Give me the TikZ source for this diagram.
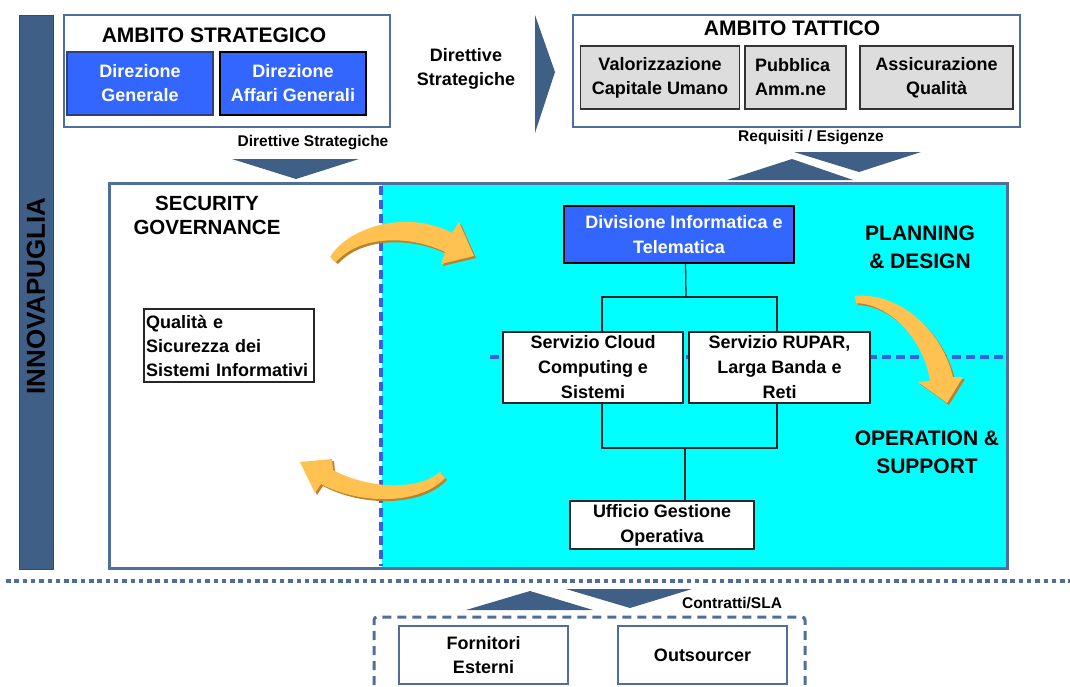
\documentclass[tikz,border=0pt]{standalone}
\usepackage{fontspec}
\setmainfont{Liberation Sans}
\definecolor{slate}{RGB}{63,95,135}
\definecolor{frame}{RGB}{80,110,155}
\definecolor{boxblue}{RGB}{51,102,255}
\definecolor{dgborder}{RGB}{45,65,120}
\definecolor{dashblue}{RGB}{55,95,225}
\definecolor{cyanbg}{RGB}{0,255,255}
\definecolor{grayfill}{RGB}{221,221,221}
\definecolor{orangeA}{RGB}{255,193,80}
\definecolor{orangeS}{RGB}{185,130,45}
\tikzset{
  fa/.style={font=\bfseries\fontsize{18}{24}\selectfont, align=center},
  fb/.style={font=\bfseries\fontsize{21}{28}\selectfont, align=center},
  fc/.style={font=\bfseries\fontsize{15.5}{19}\selectfont, align=center},
  framebox/.style={draw=frame, line width=2.5, fill=white, inner sep=0},
  bluebox/.style={fa, fill=boxblue, text=white, inner sep=0, line width=1.3},
  graybox/.style={fa, fill=grayfill, draw=black!80, line width=1.3, inner sep=0, minimum height=63},
  whitebox/.style={fa, fill=white, draw=black!85, line width=1.3, inner sep=0},
  extbox/.style={fa, fill=white, draw=frame, line width=1.3, inner sep=0, minimum width=169, minimum height=58},
  tree/.style={draw=black!85, line width=1.3},
  chev/.style={fill=slate},
  fat/.style={fill=orangeA},
  fatshadow/.style={fill=orangeS},
  sepline/.style={dashblue, line width=3.5, dash pattern=on 9 off 5}
}
\begin{document}
\begin{tikzpicture}[x=1pt,y=-1pt]
\useasboundingbox (0,0) rectangle (1070,686);

% INNOVAPUGLIA bar
\node[fill=slate, draw=slate!80!black, line width=1, minimum width=34, minimum height=554, inner sep=0] (bar) at (36,292) {};
\node[rotate=90, font=\bfseries\fontsize{26}{30}\selectfont] (innova) at (36,296) {INNOVAPUGLIA};

% AMBITO STRATEGICO
\node[framebox, minimum width=326, minimum height=112] (ambS) at (227,71) {};
\node[fb] (ambStitle) at (214,35) {AMBITO STRATEGICO};
\node[bluebox, draw=dgborder, minimum width=146, minimum height=63] (dg) at (140,83.5) {Direzione\\Generale};
\node[bluebox, draw=black, minimum width=146, minimum height=63] (dag) at (293,83.5) {Direzione\\Affari Generali};

\node[fa] (dirS) at (466,69) {Direttive\\Strategiche};
\fill[chev] (535,15) -- (555,72) -- (535,133) -- cycle;

% AMBITO TATTICO
\node[framebox, minimum width=447, minimum height=112] (ambT) at (796.5,71) {};
\node[fb] (ambTtitle) at (792,28) {AMBITO TATTICO};
\node[graybox, minimum width=158.5] (val) at (660,77.5) {Valorizzazione\\Capitale Umano};
\node[graybox, align=left, text width=81, inner xsep=10] (pub) at (795.5,77.5) {Pubblica\\Amm.ne};
\node[graybox, minimum width=153] (ass) at (936.5,77.5) {Assicurazione\\Qualità};

% labels and chevrons between levels
\node[fc] (dirS2) at (313,143) {Direttive Strategiche};
\fill[chev] (232,159) -- (359,159) -- (296,179) -- cycle;
\node[fc] (req) at (811,138) {Requisiti / Esigenze};
\fill[chev] (727,180) -- (853,180) -- (792,159) -- cycle;
\fill[chev] (794,152) -- (921,152) -- (859,172) -- cycle;

% main box
\node[fill=white, minimum width=898, minimum height=385, inner sep=0] (main) at (558,375.5) {};
\fill[cyanbg] (382,183) rectangle (1007,568);
\node[draw=frame, line width=3, minimum width=898, minimum height=385, inner sep=0] (mainframe) at (558,375.5) {};
\draw[sepline] (381,186) -- (381,566);
\draw[sepline] (490,357) -- (1005,357);

\node[fb, font=\bfseries\fontsize{20.5}{24}\selectfont] (secgov) at (207,215) {SECURITY\\GOVERNANCE};
\node[whitebox, align=left, text width=166, inner xsep=2, minimum height=73] (qual) at (229,345.5) {Qualità e\\Sicurezza dei\\Sistemi Informativi};

\node[fb] (plan) at (920,247.5) {PLANNING\\\& DESIGN};
\node[fb] (oper) at (927,452) {OPERATION \&\\SUPPORT};

% org chart
\node[bluebox, draw=black, minimum width=230, minimum height=57, font=\bfseries\fontsize{18}{25}\selectfont] (div) at (679,234.5) {\hspace*{10pt}Divisione Informatica e\\Telematica};
\node[whitebox, font=\bfseries\fontsize{18}{25}\selectfont, minimum width=180, minimum height=71] (cloud) at (593,367.5) {Servizio Cloud\\Computing e\\Sistemi};
\node[whitebox, font=\bfseries\fontsize{18}{25}\selectfont, minimum width=181, minimum height=71] (rupar) at (779.5,367.5) {Servizio RUPAR,\\Larga Banda e\\Reti};
\node[whitebox, font=\bfseries\fontsize{18}{25}\selectfont, minimum width=184, minimum height=48] (uff) at (662,525) {Ufficio Gestione\\Operativa};

\coordinate (j1) at (686,297);
\coordinate (j2) at (685,448);
\draw[tree] ([xshift=6.5]div.south) -- (j1);
\draw[tree] ([xshift=9]cloud.north) |- (j1) -| ([xshift=-2.5]rupar.north);
\draw[tree] ([xshift=9]cloud.south) |- (j2) -| ([xshift=-2.5]rupar.south);
\draw[tree] (j2) -- ([xshift=23]uff.north);

% fat orange arrows (shadow first)
\begin{scope}[shift={(2,2)}]
\fill[fatshadow] (330,257) .. controls (350,225) and (410,210) .. (452,233) -- (459,222) -- (474,256) -- (441,264) -- (445,252) .. controls (410,235) and (360,235) .. (336,262) -- cycle;
\fill[fatshadow] (855,296) .. controls (895,292) and (940,325) .. (953,377) -- (963,377) -- (947,403) -- (918,382) -- (930,381) .. controls (925,345) and (895,305) .. (856,303) -- cycle;
\fill[fatshadow] (440,472) .. controls (420,490) and (370,490) .. (333,470) -- (332,459) -- (300,462) -- (315,493) -- (321,484) .. controls (360,505) and (420,505) .. (445,478) -- cycle;
\end{scope}
\fill[fat] (330,257) .. controls (350,225) and (410,210) .. (452,233) -- (459,222) -- (474,256) -- (441,264) -- (445,252) .. controls (410,235) and (360,235) .. (336,262) -- cycle;
\fill[fat] (855,296) .. controls (895,292) and (940,325) .. (953,377) -- (963,377) -- (947,403) -- (918,382) -- (930,381) .. controls (925,345) and (895,305) .. (856,303) -- cycle;
\fill[fat] (440,472) .. controls (420,490) and (370,490) .. (333,470) -- (332,459) -- (300,462) -- (315,493) -- (321,484) .. controls (360,505) and (420,505) .. (445,478) -- cycle;

% bottom separator
\draw[frame, line width=4, dash pattern=on 4.5 off 3.8] (6,581) -- (1070,581);
\fill[chev] (466,610) -- (593,610) -- (530,591) -- cycle;
\fill[chev] (566,589) -- (692,589) -- (630,608) -- cycle;
\node[fc] (sla) at (732,603) {Contratti/SLA};

\draw[frame, line width=3, dash pattern=on 9 off 6, rounded corners=3] (374,700) -- (374,617) -- (805,617) -- (805,700);
\node[extbox] (forn) at (483.5,655) {Fornitori\\Esterni};
\node[extbox] (outs) at (702.5,655) {Outsourcer};
\end{tikzpicture}
\end{document}
